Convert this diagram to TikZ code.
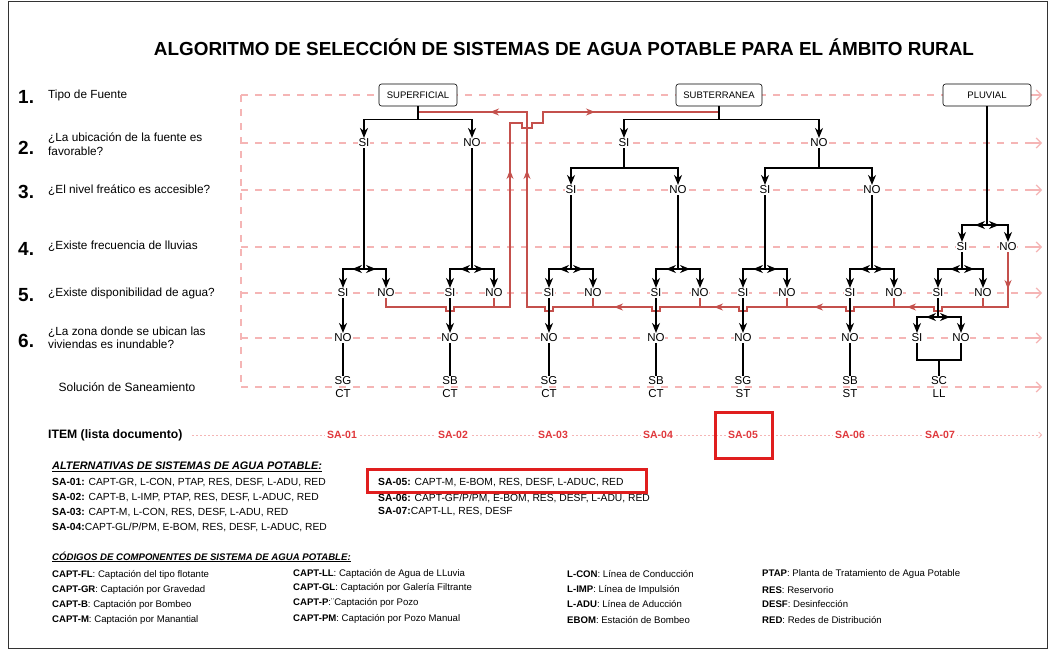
\documentclass[tikz,border=0pt]{standalone}
\usepackage{fontspec}
\setmainfont{Liberation Sans}
\usetikzlibrary{arrows.meta}

\definecolor{guidepink}{HTML}{F5B5B5}
\definecolor{fbred}{HTML}{C4504C}
\definecolor{itemred}{HTML}{E0383C}
\definecolor{markred}{HTML}{E01E1E}

\newcommand\titfont{\fontsize{18.9}{21}\selectfont\bfseries}
\newcommand\numfont{\fontsize{19}{21}\selectfont\bfseries}
\newcommand\qfont{\fontsize{11.8}{13.5}\selectfont}
\newcommand\ansfont{\fontsize{11.5}{13.5}\selectfont}
\newcommand\srcfont{\fontsize{9.5}{11}\selectfont}
\newcommand\legfont{\fontsize{10.3}{12}\selectfont}
\newcommand\codfont{\fontsize{9.6}{11}\selectfont}

\begin{document}
\begin{tikzpicture}[x=1pt,y=-1pt,
    flow/.style={line width=1.5pt,black},
    tip/.style={-{Stealth[length=10pt,width=8pt]}},
    rtip/.style={-{Stealth[length=9pt,width=7pt]}},
    fb/.style={line width=1.3pt,fbred},
    guide/.style={line width=1.2pt,guidepink,dash pattern=on 7pt off 7pt},
    ans/.style={font=\ansfont,inner sep=0.8pt,fill=white},
    srcbox/.style={draw,rounded corners=2.5pt,fill=white,font=\srcfont,
      line width=0.6pt,minimum height=22pt,inner xsep=2pt},
    sol/.style={font=\ansfont,align=center,inner sep=0pt},
    itm/.style={font=\fontsize{10.5}{12}\selectfont\bfseries,text=itemred,
      fill=white,inner sep=2pt},
    lbl/.style={anchor=west,font=\qfont,align=left,inner sep=0pt},
    num/.style={anchor=west,font=\numfont,inner sep=0pt},
    leg/.style={anchor=west,font=\legfont,inner sep=0pt},
    cod/.style={anchor=west,font=\codfont,inner sep=0pt}]

\useasboundingbox (0,0) rectangle (1055,649);
\fill[white] (0,0) rectangle (1055,649);
\draw[line width=0.8pt,black!80] (8,1) rectangle (1047,648);

% title
\node[font=\titfont] (title) at (564,47) {ALGORITMO DE SELECCIÓN DE SISTEMAS DE AGUA POTABLE PARA EL ÁMBITO RURAL};

% questions on the left
\node[num] (n1) at (18,97) {1.};
\node[lbl] (q1) at (48,95) {Tipo de Fuente};
\node[num] (n2) at (18,148) {2.};
\node[lbl] (q2) at (48,144) {¿La ubicación de la fuente es\\favorable?};
\node[num] (n3) at (18,192) {3.};
\node[lbl] (q3) at (48,190) {¿El nivel freático es accesible?};
\node[num] (n4) at (18,249) {4.};
\node[lbl] (q4) at (48,246) {¿Existe frecuencia de lluvias};
\node[num] (n5) at (18,295) {5.};
\node[lbl] (q5) at (48,293) {¿Existe disponibilidad de agua?};
\node[num] (n6) at (18,341) {6.};
\node[lbl] (q6) at (48,338) {¿La zona donde se ubican las\\viviendas es inundable?};
\node[font=\fontsize{12}{14}\selectfont] (qs) at (127,387) {Solución de Saneamiento};
\node[font=\fontsize{12.2}{14}\selectfont\bfseries,anchor=west,inner sep=0pt] (qi) at (48,435) {ITEM (lista documento)};

% guide lines
\foreach \y in {95,143,190,247,293,338,387}
  \draw[guide] (241,\y) -- (1036,\y);
\foreach \y in {95,143,190,247,293,338,387}
  \draw[guidepink,line width=1.2pt,-{Straight Barb[length=5pt,width=10pt]}] (1030,\y) -- (1042,\y);
\draw[guide] (241,95) -- (241,387);
\draw[guidepink,line width=0.6pt,dash pattern=on 2pt off 2pt,-{Straight Barb[length=3pt,width=6pt]}] (192,435) -- (1042,435);

% sources
\node[srcbox,minimum width=78pt] (sup) at (418,95) {SUPERFICIAL};
\node[srcbox,minimum width=86pt] (sub) at (719,95) {SUBTERRANEA};
\node[srcbox,minimum width=88pt] (plu) at (987,95) {PLUVIAL};

% answers
\node[ans] (a) at (364,143) {SI};
\node[ans] (b) at (472,143) {NO};
\node[ans] (c) at (624,143) {SI};
\node[ans] (d) at (819,143) {NO};
\node[ans] (c1) at (571,190) {SI};
\node[ans] (c2) at (678,190) {NO};
\node[ans] (d1) at (765,190) {SI};
\node[ans] (d2) at (872,190) {NO};
\node[ans] (p1) at (962,247) {SI};
\node[ans] (p2) at (1008,247) {NO};
\node[ans] (aS) at (343,293) {SI};
\node[ans] (aN) at (386,293) {NO};
\node[ans] (bS) at (450,293) {SI};
\node[ans] (bN) at (494,293) {NO};
\node[ans] (cS) at (549,293) {SI};
\node[ans] (cN) at (593,293) {NO};
\node[ans] (eS) at (656,293) {SI};
\node[ans] (eN) at (700,293) {NO};
\node[ans] (fS) at (743,293) {SI};
\node[ans] (fN) at (787,293) {NO};
\node[ans] (gS) at (850,293) {SI};
\node[ans] (gN) at (894,293) {NO};
\node[ans] (hS) at (938,293) {SI};
\node[ans] (hN) at (983,293) {NO};
\node[ans] (a6) at (343,338) {NO};
\node[ans] (b6) at (450,338) {NO};
\node[ans] (c6) at (549,338) {NO};
\node[ans] (e6) at (656,338) {NO};
\node[ans] (f6) at (743,338) {NO};
\node[ans] (g6) at (850,338) {NO};
\node[ans] (hSi) at (917,338) {SI};
\node[ans] (hNo) at (961,338) {NO};

% solutions
\node[sol] (s1) at (343,387) {SG\\CT};
\node[sol] (s2) at (450,387) {SB\\CT};
\node[sol] (s3) at (549,387) {SG\\CT};
\node[sol] (s4) at (656,387) {SB\\CT};
\node[sol] (s5) at (743,387) {SG\\ST};
\node[sol] (s6) at (850,387) {SB\\ST};
\node[sol] (s7) at (939,387) {SC\\LL};

% feedback lines (red)
\draw[fb] (p2.south) -- (1008,307)
  \foreach \h in {938,850,743,656,549} { -- ({\h+4},307) -- ({\h+4},311) -- ({\h-4},311) -- ({\h-4},307) }
  -- (527,307) -- (527,112) -- (sup.south |- 0,112);
\foreach \n in {hN,gN,fN,eN,cN,bN}
  \draw[fb] (\n.south) -- (\n.south |- 0,307);
\draw[fb] (aN.south) -- (386,307) -- (446,307) -- (446,311) -- (454,311) -- (454,307)
  -- (510,307) -- (510,123) -- (522,123) -- (522,128) -- (532,128) -- (532,123)
  -- (543,123) -- (543,112) -- (sub.south |- 0,112);
\foreach \x in {919,826,726,626}
  \draw[fb,rtip] (\x,307) -- ({\x-12},307);
\draw[fb,rtip] (1008,276) -- (1008,289);
\draw[fb,rtip] (510,183) -- (510,170);
\draw[fb,rtip] (527,183) -- (527,170);
\draw[fb,rtip] (503,112) -- (490,112);
\draw[fb,rtip] (582,112) -- (595,112);

% tree: level 1 -> 2 -> 3
\draw[flow] (sup.south) -- ++(0,13) coordinate (ksup);
\draw[flow,tip] (ksup) -| (a);
\draw[flow,tip] (ksup) -| (b);
\draw[flow] (sub.south) -- ++(0,13) coordinate (ksub);
\draw[flow,tip] (ksub) -| (c);
\draw[flow,tip] (ksub) -| (d);
\draw[flow] (c.south) -- (c |- 0,168) coordinate (kc);
\draw[flow,tip] (kc) -| (c1);
\draw[flow,tip] (kc) -| (c2);
\draw[flow] (d.south) -- (d |- 0,168) coordinate (kd);
\draw[flow,tip] (kd) -| (d1);
\draw[flow,tip] (kd) -| (d2);

% forks with centre arrows
\foreach \p/\l/\r/\y in {plu/p1/p2/225, a/aS/aN/269, b/bS/bN/269, c1/cS/cN/269,
    c2/eS/eN/269, d1/fS/fN/269, d2/gS/gN/269, p1/hS/hN/269, hS/hSi/hNo/317} {
  \draw[flow] (\p.south) -- (\p.south |- 0,\y) coordinate (k);
  \draw[flow,tip] (k) -| (\l);
  \draw[flow,tip] (k) -| (\r);
  \draw[flow,tip] (k) -- ++(-12,0);
  \draw[flow,tip] (k) -- ++(12,0);
}

% level 5 -> 6 -> solution
\foreach \s/\t/\z in {aS/a6/s1, bS/b6/s2, cS/c6/s3, eS/e6/s4, fS/f6/s5, gS/g6/s6} {
  \draw[flow,tip] (\s) -- (\t);
  \draw[flow] (\t) -- (\z);
}
\draw[flow] (hSi.south) -- (hSi.south |- 0,360) -- (hNo.south |- 0,360) -- (hNo.south);
\draw[flow] (s7 |- 0,360) -- (s7);

% items
\node[itm] (i1) at (342,435) {SA-01};
\node[itm] (i2) at (453,435) {SA-02};
\node[itm] (i3) at (553,435) {SA-03};
\node[itm] (i4) at (658,435) {SA-04};
\node[itm] (i5) at (743,435) {SA-05};
\node[itm] (i6) at (850,435) {SA-06};
\node[itm] (i7) at (940,435) {SA-07};
\draw[markred,line width=3pt] (715,412) rectangle (772,458);

% alternatives
\node[leg,font=\fontsize{10.9}{12}\selectfont] (h1) at (52,467) {\textbf{\textit{\underline{ALTERNATIVAS DE SISTEMAS DE AGUA POTABLE:}}}};
\node[leg] (l1) at (52,483) {\textbf{SA-01:} CAPT-GR, L-CON, PTAP, RES, DESF, L-ADU, RED};
\node[leg] (l2) at (52,498) {\textbf{SA-02:} CAPT-B, L-IMP, PTAP, RES, DESF, L-ADUC, RED};
\node[leg] (l3) at (52,513) {\textbf{SA-03:} CAPT-M, L-CON, RES, DESF, L-ADU, RED};
\node[leg] (l4) at (52,527) {\textbf{SA-04:}CAPT-GL/P/PM, E-BOM, RES, DESF, L-ADUC, RED};
\node[leg] (l5) at (378,483) {\textbf{SA-05:} CAPT-M, E-BOM, RES, DESF, L-ADUC, RED};
\node[leg] (l6) at (378,498) {\textbf{SA-06:} CAPT-GF/P/PM, E-BOM, RES, DESF, L-ADU, RED};
\node[leg] (l7) at (378,512) {\textbf{SA-07:}CAPT-LL, RES, DESF};
\draw[markred,line width=3pt] (367,469) rectangle (646,492);

% component codes
\node[cod] (h2) at (52,557) {\textbf{\textit{\underline{CÓDIGOS DE COMPONENTES DE SISTEMA DE AGUA POTABLE:}}}};
\node[cod] (k1) at (52,575) {\textbf{CAPT-FL}: Captación del tipo flotante};
\node[cod] (k2) at (52,590) {\textbf{CAPT-GR}: Captación por Gravedad};
\node[cod] (k3) at (52,605) {\textbf{CAPT-B}: Captación por Bombeo};
\node[cod] (k4) at (52,620) {\textbf{CAPT-M}: Captación por Manantial};
\node[cod] (k5) at (293,574) {\textbf{CAPT-LL}: Captación de Agua de LLuvia};
\node[cod] (k6) at (293,588) {\textbf{CAPT-GL}: Captación por Galería Filtrante};
\node[cod] (k7) at (293,603) {\textbf{CAPT-P}:¨Captación por Pozo};
\node[cod] (k8) at (293,619) {\textbf{CAPT-PM}: Captación por Pozo Manual};
\node[cod] (k9) at (567,574) {\textbf{L-CON}: Línea de Conducción};
\node[cod] (k10) at (567,590) {\textbf{L-IMP}: Línea de Impulsión};
\node[cod] (k11) at (567,604) {\textbf{L-ADU}: Línea de Aducción};
\node[cod] (k12) at (567,620) {\textbf{EBOM}: Estación de Bombeo};
\node[cod] (k13) at (762,574) {\textbf{PTAP}: Planta de Tratamiento de Agua Potable};
\node[cod] (k14) at (762,590) {\textbf{RES}: Reservorio};
\node[cod] (k15) at (762,604) {\textbf{DESF}: Desinfección};
\node[cod] (k16) at (762,620) {\textbf{RED}: Redes de Distribución};
\end{tikzpicture}
\end{document}
